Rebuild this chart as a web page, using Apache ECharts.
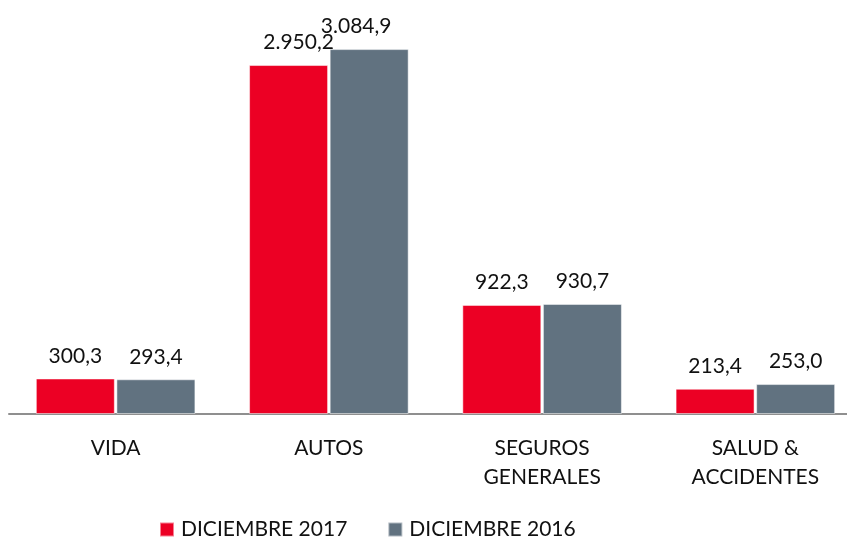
<!DOCTYPE html>
<html>
<head>
<meta charset="utf-8">
<script src="https://cdn.jsdelivr.net/npm/echarts@6/dist/echarts.min.js"></script>
<style>
  html, body { margin: 0; padding: 0; background: #fff; }
  #chart { width: 847px; height: 545px; }
</style>
</head>
<body>
<div id="chart"></div>
<script>
const categories = ["VIDA", "AUTOS", "SEGUROS\nGENERALES", "SALUD &\nACCIDENTES"];
const seriesNames = ["DICIEMBRE 2017", "DICIEMBRE 2016"];
const values2017 = [300.3, 2950.2, 922.3, 213.4];
const values2016 = [293.4, 3084.9, 930.7, 253.0];

const FONT = "Lato";

function fmt(v) {
  const parts = v.toFixed(1).split(".");
  const intPart = parts[0].replace(/\B(?=(\d{3})+(?!\d))/g, ".");
  return intPart + "," + parts[1];
}

// the two AUTOS labels overlap a bit in the original, nudge them
function withOffsets(values, autosOffset) {
  return values.map((v, i) => {
    if (i === 1) return { value: v, label: { offset: autosOffset } };
    return v;
  });
}

const chart = echarts.init(document.getElementById("chart"));

const labelStyle = {
  show: true,
  position: "top",
  distance: 12,
  fontFamily: FONT,
  fontSize: 21,
  color: "#111",
  formatter: (p) => fmt(p.value),
};

const option = {
  animation: false,
  // plot runs a bit past the right edge in the original
  grid: { left: 9, width: 853, top: 0, bottom: 131, outerBoundsMode: "none", containLabel: false },
  legend: {
    bottom: 0,
    left: 154,
    itemWidth: 14,
    itemHeight: 14,
    itemGap: 40,
    icon: "rect",
    textStyle: { fontFamily: FONT, fontSize: 21, color: "#111", padding: [0, 0, 0, 2] },
    data: seriesNames,
  },
  xAxis: {
    type: "category",
    data: categories,
    axisLine: { show: true, lineStyle: { color: "#8f8f8f", width: 2 } },
    axisTick: { show: false },
    axisLabel: {
      margin: 20,
      fontFamily: FONT,
      fontSize: 21,
      lineHeight: 29,
      color: "#111",
      interval: 0,
    },
  },
  yAxis: {
    type: "value",
    min: 0,
    max: 3500,
    show: false,
    splitLine: { show: false },
  },
  series: [
    {
      name: seriesNames[0],
      type: "bar",
      data: withOffsets(values2017, [10, 0]),
      barWidth: 79,
      barGap: "2%",
      itemStyle: { color: "#ec0024", borderColor: "rgba(255,255,255,0.5)", borderWidth: 1 },
      label: labelStyle,
    },
    {
      name: seriesNames[1],
      type: "bar",
      data: withOffsets(values2016, [-13, 0]),
      barWidth: 79,
      barGap: "2%",
      itemStyle: { color: "#617280", borderColor: "rgba(255,255,255,0.5)", borderWidth: 1 },
      label: labelStyle,
    },
  ],
};

chart.setOption(option);
</script>
</body>
</html>
